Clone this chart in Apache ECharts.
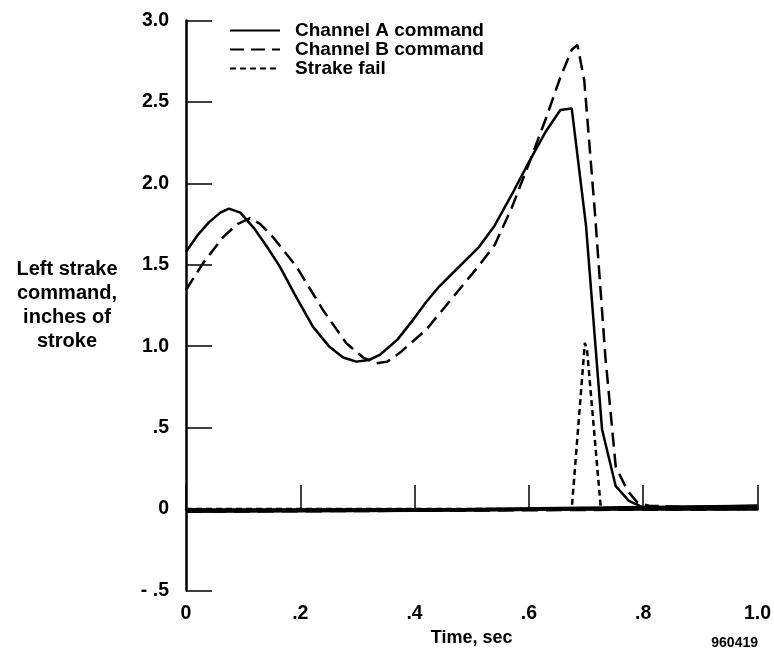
<!DOCTYPE html>
<html>
<head>
<meta charset="utf-8">
<script src="https://cdn.jsdelivr.net/npm/echarts@6/dist/echarts.min.js"></script>
<style>
  html, body { margin: 0; padding: 0; background: #fff; }
  #chart { width: 774px; height: 656px; }
</style>
</head>
<body>
<div id="chart"></div>
<script>
// time (sec), inches of stroke
const channelA = [
  [0.00, 1.58], [0.02, 1.68], [0.04, 1.76], [0.06, 1.82], [0.075, 1.845],
  [0.095, 1.82], [0.12, 1.72], [0.14, 1.62], [0.164, 1.49], [0.19, 1.32],
  [0.222, 1.12], [0.25, 1.00], [0.275, 0.93], [0.298, 0.905], [0.32, 0.915],
  [0.339, 0.946], [0.37, 1.04], [0.397, 1.16], [0.42, 1.27], [0.443, 1.366],
  [0.47, 1.46], [0.49, 1.53], [0.513, 1.61], [0.54, 1.74], [0.57, 1.93],
  [0.60, 2.13], [0.63, 2.32], [0.655, 2.45], [0.675, 2.46], [0.70, 1.74],
  [0.728, 0.49], [0.752, 0.14], [0.775, 0.05], [0.80, 0.01], [0.85, 0.01],
  [1.00, 0.02]
]
const channelB = [
  [0.00, 1.345], [0.03, 1.51], [0.065, 1.67], [0.09, 1.75], [0.112, 1.786],
  [0.13, 1.75], [0.152, 1.67], [0.193, 1.49], [0.24, 1.22], [0.28, 1.02],
  [0.31, 0.93], [0.333, 0.895], [0.352, 0.905], [0.373, 0.956], [0.42, 1.10],
  [0.467, 1.30], [0.507, 1.47], [0.54, 1.62], [0.57, 1.85], [0.60, 2.12],
  [0.63, 2.40], [0.655, 2.65], [0.675, 2.82], [0.685, 2.85], [0.697, 2.63],
  [0.716, 1.80], [0.734, 0.93], [0.752, 0.26], [0.773, 0.11], [0.79, 0.04],
  [0.81, 0.02], [0.97, 0.00]
]
const strakeFail = [
  [0.00, 0.00], [0.675, 0.00], [0.698, 1.02], [0.702, 0.97], [0.726, 0.00],
  [1.00, 0.00]
]
// heavy trace lying along zero
const zeroSolid = [[0.00, -0.012], [0.50, -0.005], [1.00, 0.015]]
const zeroDashed = [[0.00, -0.015], [0.50, -0.008], [0.97, 0.00]]

const xTicks = { '0': '0', '0.2': '.2', '0.4': '.4', '0.6': '.6', '0.8': '.8', '1': '1.0' }
const yTicks = { '-0.5': '- .5', '0': '0', '0.5': '.5', '1': '1.0', '1.5': '1.5', '2': '2.0', '2.5': '2.5', '3': '3.0' }

const font = '"Liberation Sans", Arial, Helvetica, sans-serif'
let chart = echarts.init(document.getElementById('chart'))

chart.setOption({
  animation: false,
  textStyle: { fontFamily: font, fontWeight: 'bold', color: '#000' },
  grid: { left: 186, right: 15, top: 20.5, bottom: 65.6 },
  legend: {
    data: ['Channel A command', 'Channel B command', 'Strake fail'],
    orient: 'vertical',
    left: 224,
    top: 16,
    itemWidth: 50,
    itemHeight: 14,
    itemGap: 0,
    itemStyle: { opacity: 0 },
    textStyle: { fontFamily: font, fontWeight: 'bold', fontSize: 19, color: '#000', padding: [0, 0, 0, 10] }
  },
  xAxis: {
    type: 'value',
    min: 0,
    max: 1,
    interval: 0.2,
    name: 'Time, sec',
    nameLocation: 'middle',
    nameGap: 39,
    nameTextStyle: { fontFamily: font, fontWeight: 'bold', fontSize: 18, color: '#000' },
    axisLine: { show: true, lineStyle: { color: '#000', width: 2.5 } },
    axisTick: { show: true, inside: true, length: 24, lineStyle: { color: '#000', width: 1.5 } },
    axisLabel: {
      margin: 13,
      fontFamily: font, fontWeight: 'bold', fontSize: 19.5, color: '#000',
      formatter: v => xTicks[String(Math.round(v * 10) / 10)]
    },
    splitLine: { show: false }
  },
  yAxis: {
    type: 'value',
    min: -0.5,
    max: 3,
    interval: 0.5,
    name: 'Left strake\ncommand,\ninches of\nstroke',
    nameLocation: 'middle',
    nameRotate: 0,
    nameGap: 119,
    nameTextStyle: { fontFamily: font, fontWeight: 'bold', fontSize: 20, color: '#000', lineHeight: 23.7, align: 'center', padding: [7, 0, 0, 0] },
    axisLine: { show: true, lineStyle: { color: '#000', width: 2.5 } },
    axisTick: { show: true, inside: true, length: 26, lineStyle: { color: '#000', width: 1.5 } },
    axisLabel: {
      margin: 17,
      fontFamily: font, fontWeight: 'bold', fontSize: 19.5, color: '#000',
      formatter: v => yTicks[String(Math.round(v * 10) / 10)]
    },
    splitLine: { show: false }
  },
  graphic: [{
    type: 'text',
    right: 16,
    top: 636,
    style: { text: '960419', font: 'bold 14px ' + font, fill: '#000' }
  }],
  series: [
    {
      name: 'zero-solid', type: 'line', data: zeroSolid, symbol: 'none', silent: true,
      lineStyle: { color: '#000', width: 4 }
    },
    {
      name: 'zero-dashed', type: 'line', data: zeroDashed, symbol: 'none', silent: true,
      lineStyle: { color: '#000', width: 3, type: [16, 8] }
    },
    {
      name: 'Channel A command', type: 'line', data: channelA, symbol: 'none',
      itemStyle: { color: '#000' },
      lineStyle: { color: '#000', width: 2.5 }
    },
    {
      name: 'Channel B command', type: 'line', data: channelB, symbol: 'none',
      itemStyle: { color: '#000' },
      lineStyle: { color: '#000', width: 2.5, type: [14, 7] }
    },
    {
      name: 'Strake fail', type: 'line', data: strakeFail, symbol: 'none',
      itemStyle: { color: '#000' },
      lineStyle: { color: '#000', width: 2.5, type: [6, 4] }
    }
  ]
})
</script>
</body>
</html>
